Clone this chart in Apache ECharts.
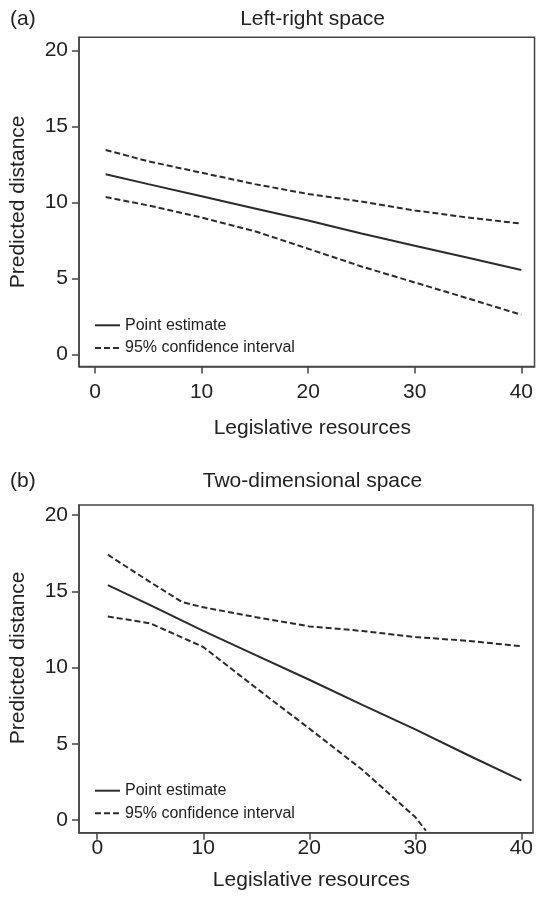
<!DOCTYPE html>
<html>
<head>
<meta charset="utf-8">
<title>Predicted distance by legislative resources</title>
<script src="https://cdn.jsdelivr.net/npm/echarts@6/dist/echarts.min.js"></script>
<style>
  html, body { margin: 0; padding: 0; background: #fff; }
  #chart { width: 536px; height: 903px; }
</style>
</head>
<body>
<div id="chart"></div>
<script>
// panel (a): left-right space
var xPointA = [1, 5, 10, 15, 20, 25, 30, 35, 40]
var pointA = [11.85, 11.2, 10.4, 9.6, 8.8, 7.95, 7.15, 6.35, 5.55]
var xUpperA = [1, 5, 10, 15, 20, 25, 30, 35, 40]
var upperA = [13.45, 12.7, 11.95, 11.2, 10.55, 10.05, 9.47, 9.0, 8.6]
var xLowerA = [1, 5, 10, 15, 20, 25, 30, 35, 40]
var lowerA = [10.35, 9.8, 9.0, 8.1, 6.95, 5.78, 4.73, 3.68, 2.6]

// panel (b): two-dimensional space
var xPointB = [1, 5, 10, 15, 20, 25, 30, 35, 40]
var pointB = [15.4, 14.1, 12.4, 10.8, 9.2, 7.55, 5.95, 4.25, 2.6]
var xUpperB = [1, 5, 8, 10, 15, 20, 25, 30, 35, 40]
var upperB = [17.4, 15.6, 14.3, 13.95, 13.3, 12.7, 12.4, 12.0, 11.75, 11.4]
var xLowerB = [1, 5, 10, 15, 20, 25, 30, 31]
var lowerB = [13.35, 12.9, 11.35, 8.65, 6.0, 3.3, 0.2, -0.7]

var xTicks = [0, 10, 20, 30, 40]
var yTicks = [0, 5, 10, 15, 20]

var FONT = 'Liberation Sans, Arial, Helvetica, sans-serif'
var INK = '#222'
var FRAME = '#444'
var LINE = '#2b2b2b'

function pairs(xs, ys) {
  return xs.map(function (x, i) { return [x, ys[i]] })
}

function xAxisFor(idx, min, max, labelMargin, nameGap) {
  return {
    type: 'value',
    gridIndex: idx,
    min: min,
    max: max,
    name: 'Legislative resources',
    nameLocation: 'middle',
    nameGap: nameGap,
    nameTextStyle: { fontFamily: FONT, fontSize: 21, color: INK, padding: [0, 0, 0, 11] },
    axisLine: { show: true, onZero: false, lineStyle: { color: FRAME, width: 1.5 } },
    axisTick: { show: true, length: 7, customValues: xTicks, lineStyle: { color: FRAME, width: 1.5 } },
    axisLabel: { customValues: xTicks, margin: labelMargin, fontFamily: FONT, fontSize: 21, color: INK },
    splitLine: { show: false }
  }
}

function yAxisFor(idx, min, max, namePad) {
  return {
    type: 'value',
    gridIndex: idx,
    min: min,
    max: max,
    name: 'Predicted distance',
    nameLocation: 'middle',
    nameGap: 50,
    nameTextStyle: { fontFamily: FONT, fontSize: 21, color: INK, padding: namePad },
    axisLine: { show: true, onZero: false, lineStyle: { color: FRAME, width: 1.5 } },
    axisTick: { show: true, length: 7, customValues: yTicks, lineStyle: { color: FRAME, width: 1.5 } },
    axisLabel: { customValues: yTicks, margin: 11, fontFamily: FONT, fontSize: 21, color: INK },
    splitLine: { show: false }
  }
}

function lineSeries(name, idx, data, dashed) {
  return {
    name: name,
    type: 'line',
    xAxisIndex: idx,
    yAxisIndex: idx,
    data: data,
    symbol: 'none',
    silent: true,
    lineStyle: { color: LINE, width: 2, type: dashed ? [6, 3] : 'solid' },
    itemStyle: { color: LINE }
  }
}

function legendAt(top) {
  return {
    orient: 'vertical',
    left: 94,
    top: top,
    itemWidth: 25,
    itemHeight: 16,
    itemGap: 6.6,
    padding: 0,
    selectedMode: false,
    data: ['Point estimate', '95% confidence interval'],
    // hide the marker dot, keep the line sample
    itemStyle: { color: 'transparent', borderColor: 'transparent', borderWidth: 0, opacity: 0 },
    textStyle: { fontFamily: FONT, fontSize: 16, color: INK }
  }
}

function panelTitle(label, text, y) {
  return [
    { text: label, left: 10, top: y, padding: 0, textAlign: 'left', textVerticalAlign: 'middle',
      textStyle: { fontFamily: FONT, fontSize: 21, fontWeight: 'normal', color: INK } },
    { text: text, left: 312.5, top: y, padding: 0, textAlign: 'center', textVerticalAlign: 'middle',
      textStyle: { fontFamily: FONT, fontSize: 21, fontWeight: 'normal', color: INK } }
  ]
}

var chart = echarts.init(document.getElementById('chart'), null, { renderer: 'canvas' })

chart.setOption({
  backgroundColor: '#fff',
  animation: false,
  title: panelTitle('(a)', 'Left-right space', 19.5).concat(panelTitle('(b)', 'Two-dimensional space', 481)),
  legend: [legendAt(317.3), legendAt(782.7)],
  grid: [
    { left: 79, right: 1, top: 37.3, height: 329.2, show: true, borderColor: FRAME, borderWidth: 1.5, backgroundColor: 'transparent' },
    { left: 79, right: 1, top: 505, height: 327.7, show: true, borderColor: FRAME, borderWidth: 1.5, backgroundColor: 'transparent' }
  ],
  xAxis: [
    xAxisFor(0, -1.5, 41.24, 15, 51),
    xAxisFor(1, -1.72, 41.1, 5, 37)
  ],
  yAxis: [
    yAxisFor(0, -0.8, 20.86, [0, 0, 0, 0]),
    yAxisFor(1, -0.83, 20.66, [0, 0, 0, 22])
  ],
  series: [
    lineSeries('Point estimate', 0, pairs(xPointA, pointA), false),
    lineSeries('95% confidence interval', 0, pairs(xUpperA, upperA), true),
    lineSeries('95% confidence interval', 0, pairs(xLowerA, lowerA), true),
    lineSeries('Point estimate', 1, pairs(xPointB, pointB), false),
    lineSeries('95% confidence interval', 1, pairs(xUpperB, upperB), true),
    lineSeries('95% confidence interval', 1, pairs(xLowerB, lowerB), true)
  ]
})
</script>
</body>
</html>
